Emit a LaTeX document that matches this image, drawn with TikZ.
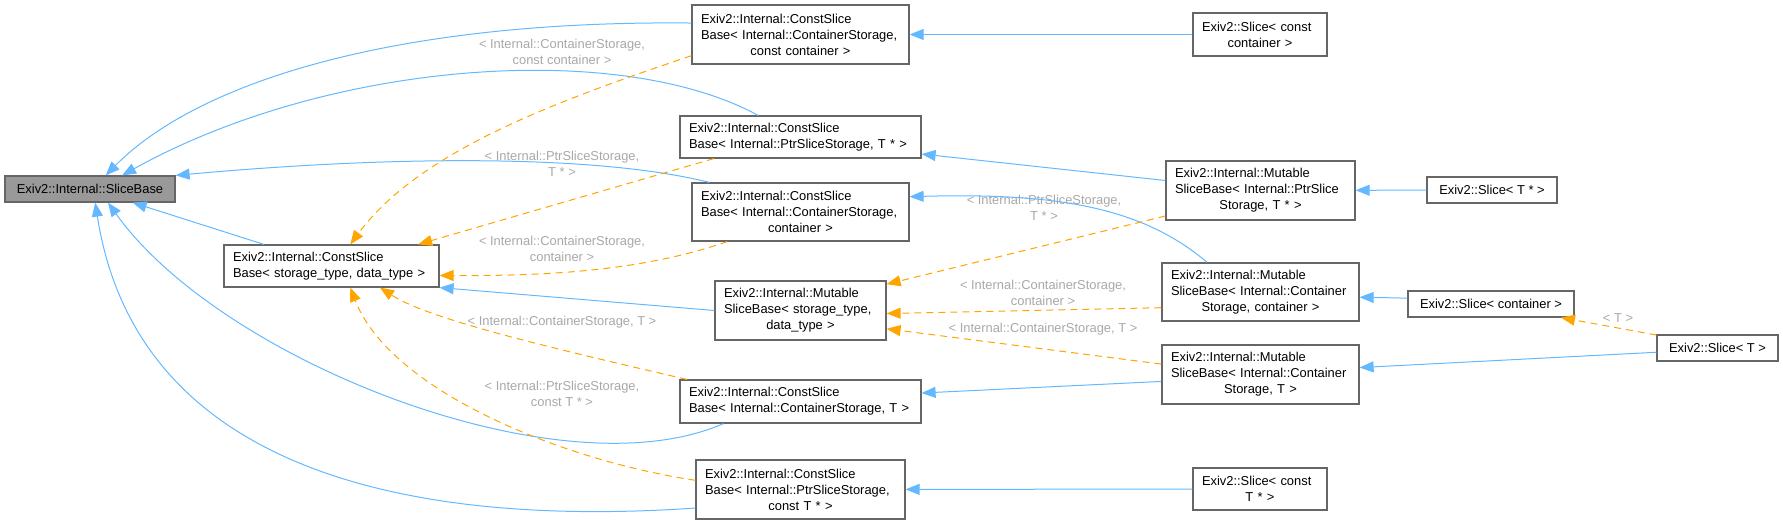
\documentclass[tikz,border=0pt]{standalone}
\usepackage{fontspec}
\setmainfont{Liberation Sans}
\usepackage{xcolor}
\usetikzlibrary{arrows.meta,positioning}
\definecolor{edgeblue}{HTML}{63B8FF}
\definecolor{edgeorange}{HTML}{FFA500}
\definecolor{boxgray}{HTML}{666666}
\definecolor{basegray}{HTML}{999999}
\definecolor{lblgray}{HTML}{A8A8A8}
\newcommand{\ctr}[1]{\makebox[\hsize]{#1}}
\hyphenpenalty=10000

\begin{document}
\begin{tikzpicture}[x=1pt,y=-1pt,
    font=\fontsize{12.9}{16}\selectfont,
    cls/.style={draw=boxgray,line width=1.2pt,fill=white,inner xsep=9pt,inner ysep=2pt,align=left},
    one/.style={cls,align=center,minimum height=26pt},
    two/.style={cls,minimum height=42pt},
    three/.style={cls,minimum height=59pt},
    inh/.style={draw=edgeblue,line width=1pt,-{Triangle[length=14pt,width=11pt]}},
    tpl/.style={draw=edgeorange,line width=1pt,dash pattern=on 7pt off 5pt,-{Triangle[length=14pt,width=11pt]}},
    lbl/.style={text=lblgray,align=center,inner sep=0pt}]
        \useasboundingbox (0,0) rectangle (1783,524);

        % Base classes
        \node[one,fill=basegray,minimum width=170pt] (base) at (90,189) {Exiv2::Internal::SliceBase};
        \node[two,text width=197pt] (csbgen) at (331.5,266) {Exiv2::Internal::ConstSlice\\Base<~storage\_type,~data\_type~>};

        % ConstSliceBase instances
        \node[three,text width=199pt] (csbcc) at (800.5,34.5) {Exiv2::Internal::ConstSlice\\Base<~Internal::ContainerStorage,\\\ctr{const container >}};
        \node[two,text width=223pt] (csbptr) at (800.5,137) {Exiv2::Internal::ConstSlice\\Base<~Internal::PtrSliceStorage,~T~*~>};
        \node[three,minimum height=58pt,text width=199pt] (csbc) at (800.5,212) {Exiv2::Internal::ConstSlice\\Base<~Internal::ContainerStorage,\\\ctr{container >}};
        \node[three,text width=153pt] (msbgen) at (800.5,310.5) {Exiv2::Internal::Mutable\\SliceBase<~storage\_type,\\\ctr{data\_type >}};
        \node[two,minimum height=43pt,text width=223pt] (csbct) at (800.5,401.5) {Exiv2::Internal::ConstSlice\\Base<~Internal::ContainerStorage,~T~>};
        \node[three,text width=191pt] (csbpct) at (800.5,489.5) {Exiv2::Internal::ConstSlice\\Base<~Internal::PtrSliceStorage,\\\ctr{const T * >}};

        % MutableSliceBase instances
        \node[two,minimum height=43pt,text width=116pt] (slicecc) at (1260,34.5) {Exiv2::Slice<~const\\\ctr{container >}};
        \node[three,text width=171pt] (msbptr) at (1260.5,190.5) {Exiv2::Internal::Mutable\\SliceBase<~Internal::PtrSlice\\\ctr{Storage, T * >}};
        \node[three,minimum height=58pt,text width=179pt] (msbc) at (1260.5,292) {Exiv2::Internal::Mutable\\SliceBase<~Internal::Container\\\ctr{Storage, container >}};
        \node[three,text width=179pt] (msbt) at (1260.5,374.5) {Exiv2::Internal::Mutable\\SliceBase<~Internal::Container\\\ctr{Storage, T >}};
        \node[two,text width=116pt] (slicect) at (1260,489) {Exiv2::Slice<~const\\\ctr{T * >}};

        % Slices
        \node[one,minimum width=130pt] (slicetptr) at (1492,190) {Exiv2::Slice< T * >};
        \node[one,minimum width=166pt] (slicecont) at (1491,304) {Exiv2::Slice< container >};
        \node[one,minimum width=121pt] (slicet) at (1717.5,348) {Exiv2::Slice< T >};

        % Template arguments
        \node[lbl] (lcc) at (562,52) {< Internal::ContainerStorage,\\const container >};
        \node[lbl] (lptr) at (562,164) {< Internal::PtrSliceStorage,\\T * >};
        \node[lbl] (lc) at (562,249) {< Internal::ContainerStorage,\\container >};
        \node[lbl] (lct) at (562,322) {< Internal::ContainerStorage, T >};
        \node[lbl] (lpct) at (562,394) {< Internal::PtrSliceStorage,\\const T * >};
        \node[lbl] (lmptr) at (1044,208) {< Internal::PtrSliceStorage,\\T * >};
        \node[lbl] (lmc) at (1043,293) {< Internal::ContainerStorage,\\container >};
        \node[lbl] (lmt) at (1043,329) {< Internal::ContainerStorage, T >};
        \node[lbl] (lt) at (1618,318) {< T >};

        % Inheritance
        \draw[inh] (csbcc.174) .. controls (400,20) and (200,80) .. (base.41);
        \draw[inh] (csbptr.153) .. controls (620,40) and (330,60) .. (base.23);
        \draw[inh] (csbc.162) .. controls (600,155) and (400,155) .. (base.north east);
        \draw[inh] (csbgen) -- (base);
        \draw[inh] (csbct.196) .. controls (560,495) and (220,360) .. (base.323);
        \draw[inh] (csbpct.190) .. controls (450,525) and (140,490) .. (base.291);
        \draw[inh] (msbgen.west) -- (csbgen.south east);
        \draw[inh] (slicecc) -- (csbcc);
        \draw[inh] (msbptr.174) -- (csbptr.352);
        \draw[inh] (msbc.151) .. controls (1140,205) and (1050,193) .. (csbc.8);
        \draw[inh] (msbt.184) -- (csbct.4);
        \draw[inh] (slicect) -- (csbpct);
        \draw[inh] (slicetptr) -- (msbptr);
        \draw[inh] (slicecont.176) -- (msbc.357);
        \draw[inh] (slicet.184) -- (msbt.4);

        % Template instances
        \draw[tpl] (csbcc.191) .. controls (560,100) and (420,150) .. (csbgen.49);
        \draw[tpl] (csbptr.194) -- (csbgen.14);
        \draw[tpl] (csbc.202) .. controls (640,272) and (540,276) .. (csbgen.355);
        \draw[tpl] (csbct.169) .. controls (560,350) and (430,320) .. (csbgen.336);
        \draw[tpl] (csbpct.175) .. controls (560,460) and (390,390) .. (csbgen.311);
        \draw[tpl] (msbptr.195) -- (msbgen.17);
        \draw[tpl] (msbc.189) -- (msbgen.358);
        \draw[tpl] (msbt.174) -- (msbgen.348);
        \draw[tpl] (slicet.168) -- (slicecont.349);
    \end{tikzpicture}
\end{document}
